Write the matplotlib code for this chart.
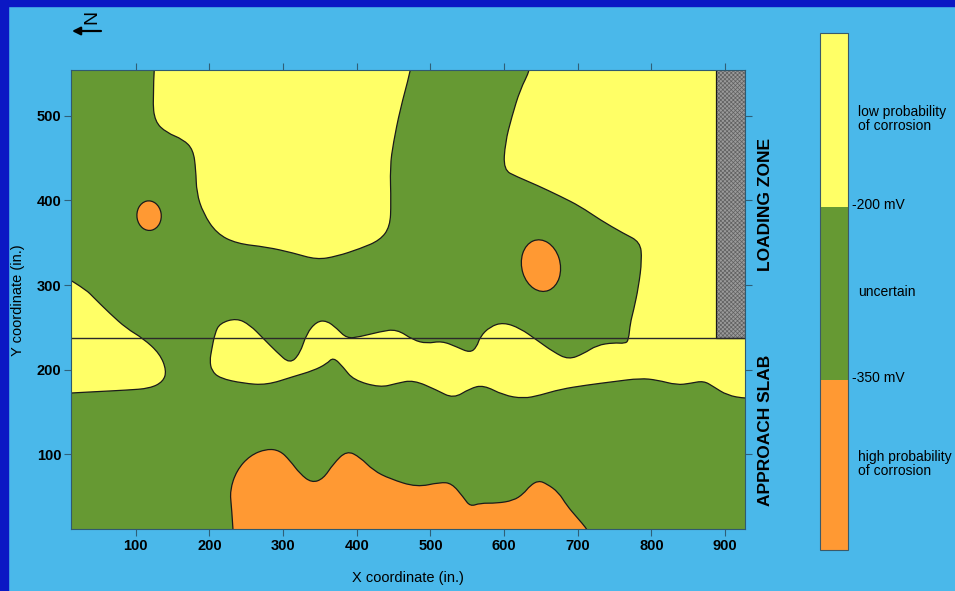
import matplotlib
matplotlib.use('Agg')
import matplotlib.pyplot as plt
import matplotlib.transforms as mtransforms
from matplotlib.patches import Ellipse, Rectangle, PathPatch
from matplotlib.path import Path
from matplotlib.colors import ListedColormap, BoundaryNorm
from matplotlib.cm import ScalarMappable
import numpy as np

plt.rcParams['font.family'] = ['Liberation Sans', 'DejaVu Sans']
plt.rcParams['hatch.linewidth'] = 0.5

# potential classes
c_low = '#ffff66'     # > -200 mV
c_mid = '#669933'     # -200 .. -350 mV
c_high = '#ff9933'    # < -350 mV

slab_split = 237      # joint between loading zone and approach slab (in.)
curb_x0 = 887         # start of the curb strip in the loading zone (in.)

# yellow region, north-west part of loading zone (x, y in inches)
low_north = np.array([
    (128, 600), (122.7, 519), (125.8, 493), (141.7, 480), (164.3, 472),
    (177.9, 460), (181.5, 436), (182.5, 409), (191.4, 385), (209.6, 361),
    (236.8, 349), (277.6, 345), (313.7, 338), (345.5, 330), (372.7, 334),
    (404.3, 343), (431.5, 353), (445.1, 369), (446.5, 397), (445.1, 440),
    (449.6, 468), (458.7, 507), (472.3, 551), (484, 600)])

# yellow band across the joint, joined with the north-east yellow area
low_band = np.array([
    (200.5, 211), (202.8, 223), (207.3, 243), (214.1, 255), (236.8, 261),
    (254.9, 253), (273, 237), (291.2, 221), (309.2, 207), (322.8, 219),
    (331.9, 243), (345.5, 257), (359.1, 258), (372.7, 249), (386.3, 237),
    (404.3, 239), (431.5, 245), (454.2, 248), (476.8, 235), (495, 231),
    (515.4, 234), (535.7, 227), (553.8, 220), (562.9, 227), (567.3, 239),
    (580.9, 251), (599.1, 256), (621.8, 249), (644.5, 235), (667, 221),
    (687.4, 212), (707.8, 219), (726, 229), (748.5, 232), (764.4, 231),
    (768.9, 235), (771.2, 255), (775.7, 270), (782.5, 298), (787.1, 330),
    (784.7, 351), (762.1, 361), (730.4, 377), (703.3, 393), (676.1, 405),
    (644.5, 418), (617.3, 428), (599.1, 436), (601.4, 468), (610.5, 499),
    (621.8, 531), (635.3, 554), (648, 600), (990, 600), (990, 164),
    (927.5, 166), (902.6, 170), (884.4, 180), (870.8, 187), (852.7, 184),
    (834.6, 182), (807.5, 188), (784.8, 190), (748.5, 186), (712.4, 182),
    (676.1, 177), (648.9, 170), (626.2, 166), (599.1, 170), (571.9, 182),
    (553.8, 178), (531.1, 166), (508.6, 176), (476.8, 188), (454.2, 184),
    (431.5, 179), (395.3, 188), (381.7, 203), (368.1, 215), (359.1, 207),
    (340.9, 199), (313.7, 192), (277.6, 182), (245.8, 184), (214.1, 190),
    (202.8, 199)])

# yellow lobe on the west edge
low_west = np.array([
    (-40, 330), (0, 312), (33, 294), (42, 286), (64.7, 266.5), (87.4, 248.8),
    (110, 237), (132.6, 219), (141.7, 199), (137.1, 186), (119, 178),
    (87.4, 176), (42, 174), (0, 172), (-40, 170)])

# orange region along the south edge
high_south = np.array([
    (235, -30), (230, 37.6), (227.7, 57.4), (236.8, 81.1), (254.9, 98.8),
    (277.6, 106.7), (295.6, 104.7), (309.2, 92.9), (322.8, 77.2),
    (338.7, 66.5), (354.5, 71.2), (368.1, 89), (386.3, 104.7), (404.4, 96.8),
    (422.4, 81.1), (445.1, 71.2), (481.4, 61.3), (513, 67.2), (528.9, 66),
    (544.7, 49.5), (553.8, 38.5), (567.4, 42.6), (590.1, 42.4), (612.6, 45.6),
    (626.2, 53.5), (635.3, 63.3), (646.6, 69.2), (658, 65.3), (673.8, 55.4),
    (685.2, 39.6), (698.8, 25.8), (712.4, 12.1), (745, -30)])

# small orange spots: centre x, centre y, width, height, tilt
spot_x = [118, 650]
spot_y = [382, 323]
spot_w = [33, 52]
spot_h = [35, 62]
spot_tilt = [12, 20]

x_ticks = [100, 200, 300, 400, 500, 600, 700, 800, 900]
y_ticks = [100, 200, 300, 400, 500]

legend_bounds = [-500, -350, -200, -50]
legend_labels = ['high probability\nof corrosion', '-350 mV', 'uncertain',
                 '-200 mV', 'low probability\nof corrosion']


def contour_patch(pts, color):
    # closed outline drawn with quadratic curves through the edge midpoints
    mids = (pts + np.roll(pts, -1, axis=0)) / 2
    verts = [mids[-1]]
    codes = [Path.MOVETO]
    for p, m in zip(pts, mids):
        verts += [p, m]
        codes += [Path.CURVE3, Path.CURVE3]
    verts.append(mids[-1])
    codes.append(Path.CLOSEPOLY)
    return PathPatch(Path(verts, codes), facecolor=color,
                     edgecolor='#1a1a1a', linewidth=0.9)


fig = plt.figure(figsize=(9.55, 5.91), dpi=100, facecolor='#4ab8ea')

# dark frame on top and left
fig.patches.append(Rectangle((0, 0), 8 / 955, 1, transform=fig.transFigure,
                             color='#0b18c4', zorder=0))
fig.patches.append(Rectangle((0, 1 - 6 / 591), 1, 6 / 591,
                             transform=fig.transFigure, color='#0b18c4', zorder=0))

ax = fig.add_axes([71 / 955, 62 / 591, 674 / 955, 459 / 591])
ax.set_facecolor(c_mid)

for pts in [low_north, low_band, low_west]:
    ax.add_patch(contour_patch(pts, c_low))
ax.add_patch(contour_patch(high_south, c_high))
for x, y, w, h, a in zip(spot_x, spot_y, spot_w, spot_h, spot_tilt):
    ax.add_patch(Ellipse((x, y), w, h, angle=a, facecolor=c_high,
                         edgecolor='#1a1a1a', linewidth=0.9))

# curb strip
ax.add_patch(Rectangle((curb_x0, slab_split), 80, 400, facecolor='#9a9a9a',
                       edgecolor='#606060', hatch='xxxxxxxx', linewidth=0))
ax.add_patch(Rectangle((curb_x0, slab_split), 80, 400, fill=False,
                       edgecolor='#1a1a1a', linewidth=0.9))
ax.axhline(slab_split, color='#2a2a2a', linewidth=1.0)

ax.set_xlim(12, 927)
ax.set_ylim(12, 554)
ax.set_xticks(x_ticks)
ax.set_yticks(y_ticks)
ax.tick_params(direction='out', length=5, width=0.8, color='#2f5f78',
               top=True, right=True, labelsize=10.5, pad=2)
for lab in ax.get_xticklabels() + ax.get_yticklabels():
    lab.set_fontweight('bold')
for sp in ax.spines.values():
    sp.set_color('#2f5a70')
    sp.set_linewidth(0.8)

tr = mtransforms.blended_transform_factory(ax.transAxes, ax.transData)
ax.text(1.031, (slab_split + 554) / 2, 'LOADING ZONE', transform=tr,
        rotation=90, ha='center', va='center', fontsize=12.5, fontweight='bold')
ax.text(1.031, 128, 'APPROACH SLAB', transform=tr, rotation=90,
        ha='center', va='center', fontsize=12.5, fontweight='bold')

fig.text(408 / 955, 1 - 578 / 591, 'X coordinate (in.)', ha='center',
         va='center', fontsize=10.5)
fig.text(18 / 955, 1 - 300 / 591, 'Y coordinate (in.)', rotation=90,
         ha='center', va='center', fontsize=10.5)

# north marker
fig.text(92 / 955, 1 - 17 / 591, 'N', rotation=90, ha='center', va='center',
         fontsize=14)
ax.annotate('', xy=(72 / 955, 1 - 31 / 591), xytext=(101 / 955, 1 - 31 / 591),
            xycoords='figure fraction', textcoords='figure fraction',
            arrowprops=dict(arrowstyle='-|>', color='black', lw=1.6,
                            mutation_scale=12, shrinkA=0, shrinkB=0))

# legend bar
cax = fig.add_axes([820 / 955, 41 / 591, 28 / 955, 517 / 591])
cmap = ListedColormap([c_high, c_mid, c_low])
norm = BoundaryNorm(legend_bounds, cmap.N)
cb = fig.colorbar(ScalarMappable(norm=norm, cmap=cmap), cax=cax, ticks=[])
cb.minorticks_off()
cax.tick_params(which='both', length=0)
cb.outline.set_edgecolor('#3a5a6a')
cb.outline.set_linewidth(0.8)
cb.solids.set_edgecolor('face')
for i, lab in enumerate(legend_labels):
    pos = (i + 1) / 6
    xoff = 1.15 if 'mV' in lab else 1.36
    cax.text(xoff, pos, lab, transform=cax.transAxes, ha='left',
             va='center', fontsize=10, linespacing=1.05)

fig.savefig('out.png', dpi=100, facecolor=fig.get_facecolor())
